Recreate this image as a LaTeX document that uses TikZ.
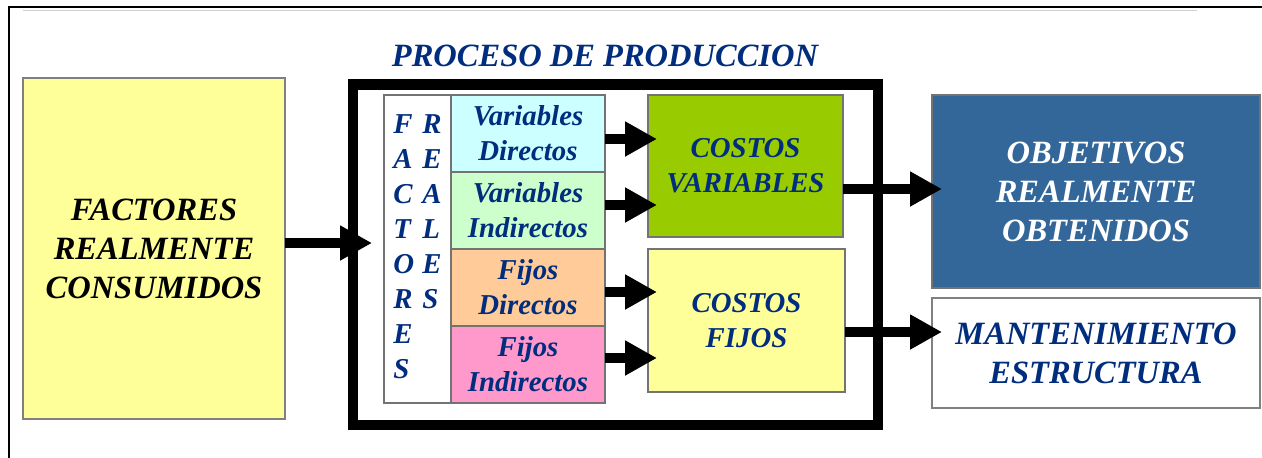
\documentclass[tikz,border=0pt]{standalone}
\usepackage{fontspec}
\setmainfont{Liberation Serif}
\usetikzlibrary{arrows.meta,positioning}
\definecolor{pdblue}{RGB}{0,45,125}
\definecolor{pdyellow}{RGB}{255,255,153}
\definecolor{pdcyan}{RGB}{204,255,255}
\definecolor{pdmint}{RGB}{204,255,204}
\definecolor{pdpeach}{RGB}{255,204,153}
\definecolor{pdpink}{RGB}{255,153,204}
\definecolor{pdgreen}{RGB}{153,204,0}
\definecolor{pdsteel}{RGB}{51,102,153}

\tikzset{
  caja/.style={draw=black!55, line width=1.5pt, outer sep=0pt, align=center, text=pdblue},
  grande/.style={font=\fontsize{32.5}{39}\selectfont\bfseries\itshape},
  mediano/.style={font=\fontsize{28.8}{35}\selectfont\bfseries\itshape},
  fila/.style={caja, mediano, minimum width=154, minimum height=77},
  flecha/.style={line width=10pt, -{Triangle[length=32pt,width=33pt]}},
}

\begin{document}
\begin{tikzpicture}[x=1pt,y=-1pt]
\useasboundingbox (0,0) rectangle (1262,458);
% Frame
\draw[line width=2pt] (9,458) -- (9,7) -- (1262,7);
\draw[black!18, line width=1.5pt] (23,10.5) -- (1197,10.5);
% Input
\node[caja, grande, fill=pdyellow, draw=black!50, text=black, minimum width=262, minimum height=341] (fact) at (154,248.5) {FACTORES\\REALMENTE\\CONSUMIDOS};
% Process
\node[grande, text=pdblue] (titulo) at (605,56) {PROCESO DE PRODUCCION};
\node[draw, line width=10.5pt, minimum width=525, minimum height=340.5] (proc) at (615.5,254.75) {};
\node[fila, fill=pdcyan] (vd) at (528,133.5) {Variables\\Directos};
\node[fila, fill=pdmint, below=0pt of vd] (vi) {Variables\\Indirectos};
\node[fila, fill=pdpeach, below=0pt of vi] (fd) {Fijos\\Directos};
\node[fila, fill=pdpink, below=0pt of fd] (fi) {Fijos\\Indirectos};
\node[caja, mediano, fill=white, minimum width=67, minimum height=308, anchor=north east] (fac) at (vd.north west)
  {\begin{tabular}{@{}l@{\hspace{8pt}}l@{}}F&R\\A&E\\C&A\\T&L\\O&E\\R&S\\E&\\S&\end{tabular}};
% Costs
\node[caja, mediano, fill=pdgreen, minimum width=195, minimum height=142] (cv) at (745.5,166) {COSTOS\\VARIABLES};
\node[caja, mediano, fill=pdyellow, minimum width=197, minimum height=143] (cf) at (746.5,320.5) {COSTOS\\FIJOS};
% Outputs
\node[caja, grande, fill=pdsteel, text=white, minimum width=328, minimum height=193] (obj) at (1096,191.5) {OBJETIVOS\\REALMENTE\\OBTENIDOS};
\node[caja, grande, fill=white, draw=black!50, minimum width=328, minimum height=110] (mant) at (1096,353) {MANTENIMIENTO\\ESTRUCTURA};
% Arrows
\draw[flecha, shorten >=12pt] ([yshift=5.5pt]fact.east) -- ([yshift=5.5pt]fact.east -| fac.west);
\foreach \a/\b/\s in {vd/cv/-5.5, vi/cv/5.5, fd/cf/-4.5, fi/cf/6.5}
  \draw[flecha, shorten >=-9pt] ([yshift=\s pt]\a.east) -- ([yshift=\s pt]\a.east -| \b.west);
\draw[flecha, shorten >=-10pt] ([yshift=2.5pt]obj.west -| cv.east) -- ([yshift=2.5pt]obj.west);
\draw[flecha, shorten >=-10pt] ([yshift=-11.5pt]cf.east) -- ([yshift=-11.5pt]cf.east -| mant.west);
\end{tikzpicture}
\end{document}
